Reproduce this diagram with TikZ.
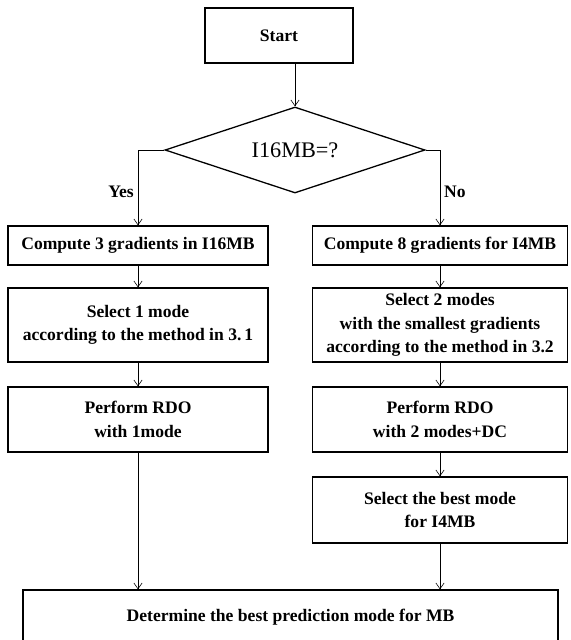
\documentclass[tikz,border=0pt]{standalone}
\usepackage{fontspec}
\setmainfont{Liberation Serif}
\usetikzlibrary{shapes.geometric, arrows.meta}

\begin{document}
\begin{tikzpicture}[x=0.03cm, y=-0.03cm,
        box/.style={rectangle, draw, line width=1.1pt, align=center, inner sep=0pt, font=\fontsize{15}{20}\selectfont\bfseries},
        arr/.style={-{Straight Barb[length=5pt, width=7pt]}, line width=0.5pt},
        lbl/.style={font=\fontsize{15}{18}\selectfont\bfseries}]
        \useasboundingbox (0,0) rectangle (571,640);

        % Nodes
        \node[box, minimum width=4.44cm, minimum height=1.65cm] (start) at (279, 35.5) {Start};
        \node[diamond, draw, line width=1.1pt, aspect=3, inner sep=0pt, minimum width=7.8cm, minimum height=2.58cm, font=\fontsize{19}{22}\selectfont] (dec) at (295, 150) {I16MB=?};

        \node[box, minimum width=7.8cm, minimum height=1.17cm] (grad3) at (138, 245.5) {Compute 3 gradients in I16MB};
        \node[box, minimum width=7.8cm, minimum height=2.22cm] (sel1) at (138, 325) {Select 1 mode\\according to the method in 3.\,1};
        \node[box, minimum width=7.8cm, minimum height=1.95cm] (rdo1) at (138, 419.5) {Perform RDO\\with 1mode};

        \node[box, minimum width=7.65cm, minimum height=1.17cm] (grad8) at (440, 245.5) {Compute 8 gradients for I4MB};
        \node[box, minimum width=7.65cm, minimum height=2.22cm] (sel2) at (440, 325) {Select 2 modes\\with the smallest gradients\\according to the method in 3.2};
        \node[box, minimum width=7.65cm, minimum height=1.95cm] (rdo2) at (440, 419.5) {Perform RDO\\with 2 modes+DC};
        \node[box, minimum width=7.65cm, minimum height=1.98cm] (best4) at (440, 510) {Select the best mode\\for I4MB};

        \node[box, minimum width=16.05cm, minimum height=1.62cm] (final) at (290.5, 617) {Determine the best prediction mode for MB};

        % Lines
        \draw[arr] (start.south -| dec.north) -- (dec.north);
        \draw[arr] (dec.west) -| (grad3.north) node[lbl, pos=0.78, left] {Yes};
        \draw[arr] (dec.east) -| (grad8.north) node[lbl, pos=0.78, right] {No};
        \draw[arr] (grad3) -- (sel1);
        \draw[arr] (sel1) -- (rdo1);
        \draw[arr] (grad8) -- (sel2);
        \draw[arr] (sel2) -- (rdo2);
        \draw[arr] (rdo2) -- (best4);
        \draw[arr] (rdo1.south) -- (rdo1.south |- final.north);
        \draw[arr] (best4.south) -- (best4.south |- final.north);
\end{tikzpicture}
\end{document}
